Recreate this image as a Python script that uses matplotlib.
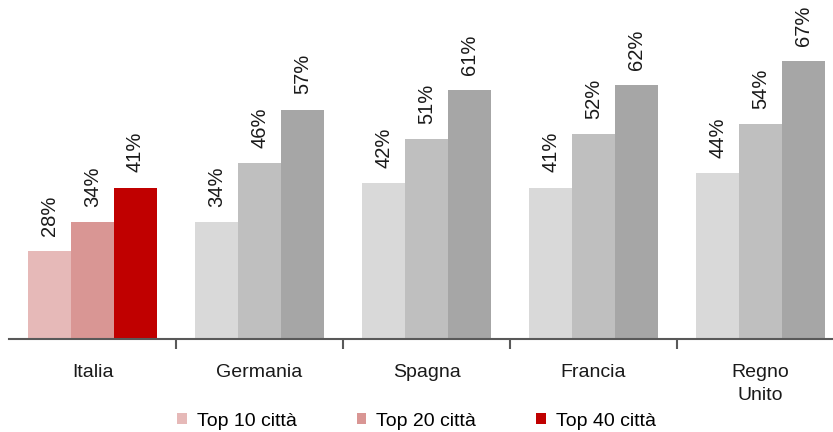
import numpy as np
import matplotlib.pyplot as plt
import matplotlib

matplotlib.rcParams['font.family'] = ['Liberation Sans', 'DejaVu Sans']

# dati
paesi = ['Italia', 'Germania', 'Spagna', 'Francia', 'Regno\nUnito']
serie = ['Top 10 città', 'Top 20 città', 'Top 40 città']
top10 = [28, 34, 42, 41, 44]
top20 = [34, 46, 51, 52, 54]
top40 = [41, 57, 61, 62, 67]

col_italia = ['#E6B9B8', '#D99694', '#C00000']
col_altri = ['#D9D9D9', '#BFBFBF', '#A6A6A6']

fig = plt.figure(figsize=(8.33, 4.32), dpi=100, facecolor='white')
ax = fig.add_axes([9 / 833, 93 / 432, 835 / 833, 341.6 / 432])

x = np.arange(len(paesi))
w = 0.256
valori = [top10, top20, top40]
for i, (vals, nome) in enumerate(zip(valori, serie)):
    colori = [col_italia[i]] + [col_altri[i]] * (len(paesi) - 1)
    pos = x + (i - 1) * w
    ax.bar(pos, vals, width=w, color=colori, label=nome)
    for p, v in zip(pos, vals):
        ax.annotate('%d%%' % v, (p, v), xytext=(0, 11), textcoords='offset points',
                    rotation=90, ha='center', va='bottom', fontsize=14.5, color='#1a1a1a')

ax.set_xlim(-0.5, len(paesi) - 0.5)
ax.set_ylim(10, 80)
ax.set_xticks(x)
ax.set_xticklabels(paesi, linespacing=1.5)
ax.set_xticks(np.arange(0.5, len(paesi) - 1, 1), minor=True)
ax.tick_params(axis='x', which='major', length=0, pad=18, labelsize=14, labelcolor='#1a1a1a')
ax.tick_params(axis='x', which='minor', length=7, width=1.5, color='#595959', direction='out')
ax.set_yticks([])
for s in ['top', 'right', 'left']:
    ax.spines[s].set_visible(False)
ax.spines['bottom'].set_color('#595959')
ax.spines['bottom'].set_linewidth(1.5)

fig.legend(loc='center', bbox_to_anchor=(0.5, 0.025), ncol=3, frameon=False,
           fontsize=14, handlelength=0.5, handleheight=0.5, handletextpad=0.5,
           columnspacing=3.1, borderaxespad=0)

plt.savefig('out.png', dpi=100)
